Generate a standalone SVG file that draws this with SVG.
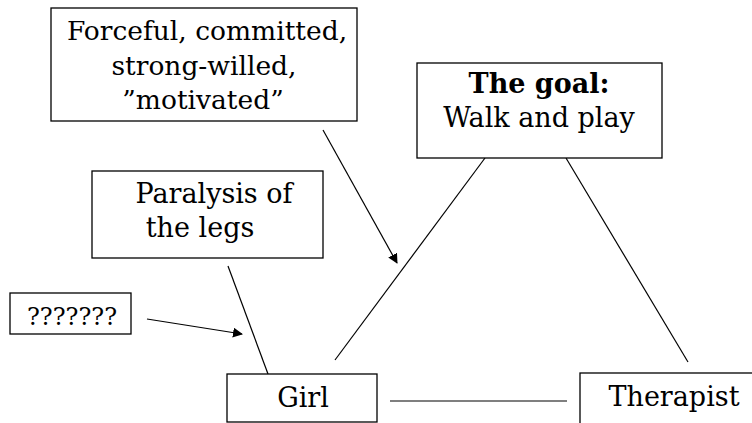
<svg xmlns="http://www.w3.org/2000/svg" width="752" height="423" viewBox="0 0 752 423">
<style>
.box{fill:#fff;stroke:#000;stroke-width:1.3}
.t{font-family:"DejaVu Serif","Liberation Serif",serif;font-size:27px;fill:#000;text-anchor:middle}
.f{font-size:26.5px}
.b{font-weight:bold}
.q{font-size:24px}
.c{stroke:#000;stroke-width:1.2;fill:none}
</style>
<defs>
<marker id="ah" viewBox="0 0 10 10" refX="9" refY="5" markerWidth="10" markerHeight="10" markerUnits="userSpaceOnUse" orient="auto">
<path d="M0,0 L10,5 L0,10 z" fill="#000"/>
</marker>
</defs>
<rect width="752" height="423" fill="#fff"/>
<g id="connectors">
<line class="c" x1="485" y1="158" x2="335" y2="360"/>
<line class="c" x1="566" y1="158" x2="688" y2="362"/>
<line class="c" x1="228" y1="266" x2="268" y2="374"/>
<line class="c" x1="390" y1="401" x2="567" y2="401"/>
<line class="c" x1="323" y1="130" x2="397" y2="263" marker-end="url(#ah)"/>
<line class="c" x1="147" y1="319" x2="242" y2="334" marker-end="url(#ah)"/>
</g>
<g id="forceful">
<rect class="box" x="51" y="8" width="306" height="113"/>
<text class="t f" x="207" y="40">Forceful, committed,</text>
<text class="t f" x="204" y="75">strong-willed,</text>
<text class="t f" x="203" y="109">”motivated”</text>
</g>
<g id="goal">
<rect class="box" x="417" y="63" width="245" height="95"/>
<text class="t b" x="539" y="93">The goal:</text>
<text class="t" x="539" y="127">Walk and play</text>
</g>
<g id="paralysis">
<rect class="box" x="92" y="171" width="231" height="87"/>
<text class="t" x="214" y="203">Paralysis of</text>
<text class="t" x="200" y="237">the legs</text>
</g>
<g id="unknown">
<rect class="box" x="10" y="293" width="121" height="41"/>
<text class="t q" x="72" y="325">???????</text>
</g>
<g id="girl">
<rect class="box" x="227" y="374" width="150" height="48"/>
<text class="t" x="303" y="407">Girl</text>
</g>
<g id="therapist">
<rect class="box" x="580" y="373" width="180" height="60"/>
<text class="t" x="674" y="406">Therapist</text>
</g>
</svg>
